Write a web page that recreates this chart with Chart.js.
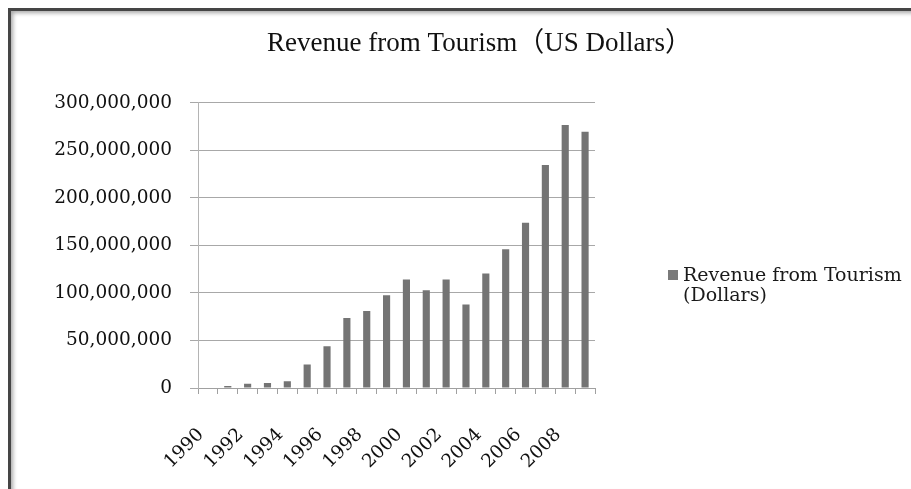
<!DOCTYPE html>
<html lang="en">
<head>
    <meta charset="UTF-8">
    <title>Revenue from Tourism</title>
    <script src="https://cdn.jsdelivr.net/npm/chart.js"></script>
    <style>
        body {
            margin: 0;
            background: #fff;
            width: 911px;
            height: 489px;
            overflow: hidden;
            position: relative;
        }

        .frame {
            position: absolute;
            left: 8px;
            top: 8px;
            width: 903px;
            height: 481px;
            box-sizing: border-box;
            border-top: 3px solid #454545;
            border-left: 3px solid #454545;
            box-shadow: inset 3px 3px 4px -1px rgba(0, 0, 0, 0.35);
        }

        .chart-box {
            position: absolute;
            left: 0;
            top: 0;
            width: 911px;
            height: 489px;
        }

        .legend {
            position: absolute;
            left: 668px;
            top: 264px;
            font-family: 'DejaVu Serif', serif;
            font-size: 19px;
            line-height: 20px;
            color: #1a1a1a;
        }

        .legend .swatch {
            position: absolute;
            left: 0;
            top: 6px;
            width: 10px;
            height: 10px;
            background: #7a7a7a;
        }

        .legend .text {
            margin-left: 15px;
            white-space: nowrap;
        }
    </style>
</head>
<body>
    <div class="frame"></div>
    <div class="chart-box">
        <canvas id="tourismChart" width="911" height="489"></canvas>
    </div>
    <div class="legend">
        <div class="swatch"></div>
        <div class="text">Revenue from Tourism<br>(Dollars)</div>
    </div>

    <script>
        const years = ['1990', '1991', '1992', '1993', '1994', '1995', '1996', '1997', '1998', '1999',
                       '2000', '2001', '2002', '2003', '2004', '2005', '2006', '2007', '2008', '2009'];
        const revenue = [500000, 2000000, 4600000, 5300000, 7000000, 24600000, 43900000, 73700000, 81000000, 97500000,
                         114000000, 102800000, 114000000, 87700000, 120400000, 146000000, 173700000, 234400000, 276500000, 269500000];
        const yTicks = [0, 50000000, 100000000, 150000000, 200000000, 250000000, 300000000];

        const serif = "'DejaVu Serif', serif";

        new Chart(document.getElementById('tourismChart'), {
            type: 'bar',
            data: {
                labels: years,
                datasets: [{
                    label: 'Revenue from Tourism (Dollars)',
                    data: revenue,
                    backgroundColor: '#747474',
                    barPercentage: 0.36,
                    categoryPercentage: 1.0,
                    yAxisID: 'y'
                }]
            },
            options: {
                responsive: false,
                animation: false,
                layout: {
                    padding: { left: 48, right: 0, top: 8, bottom: 8 }
                },
                scales: {
                    x: {
                        grid: {
                            drawOnChartArea: false,
                            tickLength: 6,
                            color: '#a0a0a0'
                        },
                        border: { color: '#a0a0a0' },
                        ticks: {
                            autoSkip: false,
                            minRotation: 45,
                            maxRotation: 45,
                            padding: 30,
                            labelOffset: -7,
                            color: '#111',
                            font: { family: serif, size: 18.5 },
                            callback: (value, i) => (i % 2 === 0 ? years[i] : '')
                        },
                        afterFit: scale => { scale.height = 93; }
                    },
                    y: {
                        min: 0,
                        max: 300000000,
                        afterBuildTicks: scale => { scale.ticks = yTicks.map(v => ({ value: v })); },
                        grid: {
                            color: '#a8a8a8',
                            tickLength: 8
                        },
                        border: { color: '#b4b4b4' },
                        ticks: {
                            padding: 18,
                            color: '#111',
                            font: { family: serif, size: 18.5 },
                            callback: value => value.toLocaleString('en-US')
                        },
                        afterFit: scale => { scale.width = 150; }
                    },
                    // empty axis keeping room on the right for the legend
                    side: {
                        type: 'linear',
                        position: 'right',
                        min: 0,
                        max: 1,
                        grid: { display: false },
                        border: { display: false },
                        ticks: { display: false },
                        afterFit: scale => { scale.width = 316; }
                    }
                },
                plugins: {
                    legend: { display: false },
                    tooltip: { enabled: false },
                    title: {
                        display: true,
                        text: 'Revenue from Tourism（US Dollars）',
                        color: '#111',
                        font: { family: "'Liberation Serif', 'Noto Sans CJK JP', serif", size: 27, weight: 'normal' },
                        padding: { top: 19.8, bottom: 42.5 }
                    }
                }
            }
        });
    </script>
</body>
</html>
